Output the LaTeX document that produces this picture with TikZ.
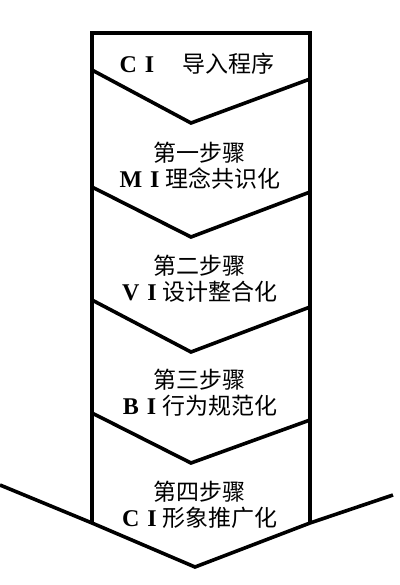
\documentclass[tikz,border=0pt]{standalone}
\usepackage{fontspec}
\setmainfont{Liberation Serif}
\newfontfamily\cjk{Noto Sans CJK SC}
\tikzstyle{outline}=[line width=1.8pt,line join=miter]
\tikzstyle{stage}=[align=center,inner sep=0pt,font=\fontsize{11.5}{13}\selectfont]
\newcommand{\ab}[2]{{\fontsize{12}{13}\selectfont\bfseries #1\hspace{4pt}#2}}
\newcommand{\zh}[1]{{\cjk #1}}

\begin{document}
\begin{tikzpicture}[x=0.5pt,y=-0.5pt]
      \useasboundingbox (0,0) rectangle (400,585);
      % box and bottom arrow
      \coordinate (tl) at (92,33);
      \coordinate (tr) at (310,33);
      \coordinate (bl) at (92,523);
      \coordinate (br) at (310,523);
      \draw[outline] (bl)--(tl)--(tr)--(br);
      \draw[outline] (0,485)--(bl)--(195,567)--(br)--(393,495);
      % chevrons
      \foreach \l/\v/\r in {70/123/79, 187/237/192, 300/352/307, 413/463/420}
        \draw[outline] (92,\l)--(191,\v)--(310,\r);
      \node[stage] at (197,64) (intro) {\ab{C}{I}\hspace{14pt}\zh{导入程序}};
      \node[stage] at (200,166) (mi) {\zh{第一步骤}\\\ab{M}{I}\hspace{3pt}\zh{理念共识化}};
      \node[stage] at (200,279) (vi) {\zh{第二步骤}\\\ab{V}{I}\hspace{3pt}\zh{设计整合化}};
      \node[stage] at (200,393) (bi) {\zh{第三步骤}\\\ab{B}{I}\hspace{3pt}\zh{行为规范化}};
      \node[stage] at (200,505) (ci) {\zh{第四步骤}\\\ab{C}{I}\hspace{3pt}\zh{形象推广化}};
    \end{tikzpicture}
\end{document}
